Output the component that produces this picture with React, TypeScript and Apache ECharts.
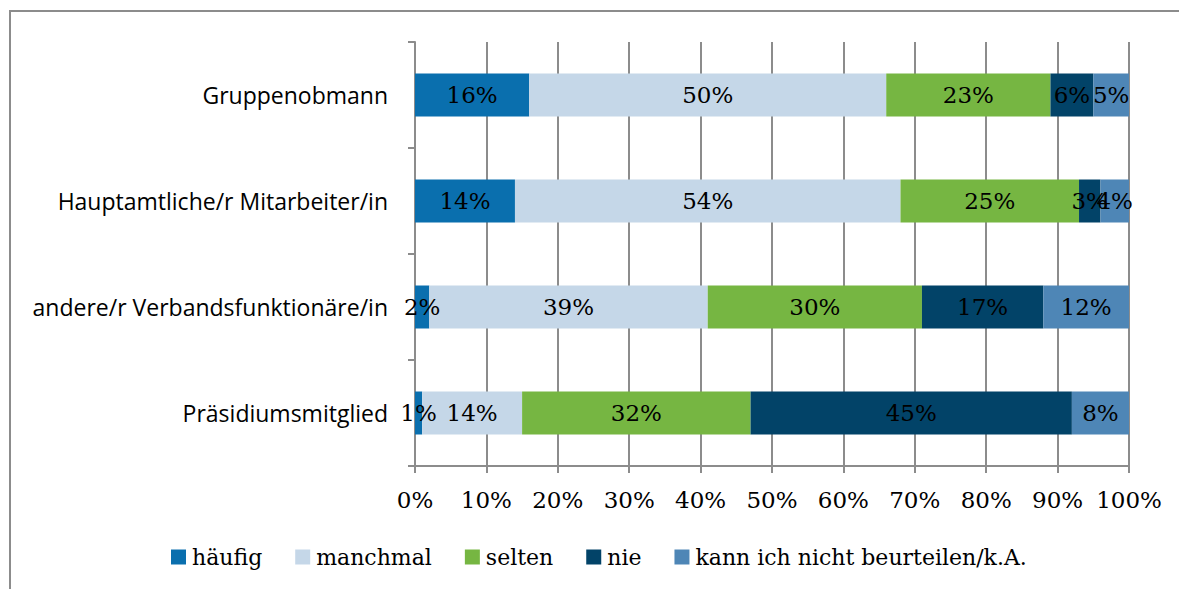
import React, { useEffect, useRef } from "react";
import * as echarts from "echarts";

const categories = [
  "Gruppenobmann",
  "Hauptamtliche/r Mitarbeiter/in",
  "andere/r Verbandsfunktionäre/in",
  "Präsidiumsmitglied",
];
const seriesNames = ["häufig", "manchmal", "selten", "nie", "kann ich nicht beurteilen/k.A."];
const haeufig = [16, 14, 2, 1];
const manchmal = [50, 54, 39, 14];
const selten = [23, 25, 30, 32];
const nie = [6, 3, 17, 45];
const kannNicht = [5, 4, 12, 8];
const xTicks = [0, 10, 20, 30, 40, 50, 60, 70, 80, 90, 100];

const colors = ["#0A6FAE", "#C5D7E8", "#76B642", "#024368", "#4E86B6"];
const serif = "DejaVu Serif";
const sans = "Open Sans";

export default function App() {
  const ref = useRef<HTMLDivElement>(null);
  useEffect(() => {
    if (!ref.current) return;
    const chart = echarts.init(ref.current, null, { renderer: "svg" });
    const values = [haeufig, manchmal, selten, nie, kannNicht];
    chart.setOption({
      animation: false,
      backgroundColor: "#ffffff",
      color: colors,
      graphic: [
        {
          type: "rect",
          shape: { x: 10, y: 11, width: 1400, height: 800 },
          style: { fill: "none", stroke: "#8c8c8c", lineWidth: 2 },
          silent: true,
          z: -1,
        },
      ],
      legend: {
        left: 171,
        top: 546,
        padding: 0,
        itemWidth: 15,
        itemHeight: 15,
        itemGap: 33,
        icon: "rect",
        textStyle: { fontFamily: serif, fontSize: 22, color: "#000", padding: [0, 0, 0, 1] },
        data: seriesNames,
      },
      grid: { left: 415, right: 50, top: 42, bottom: 123, containLabel: false },
      xAxis: {
        type: "value",
        min: xTicks[0],
        max: xTicks[xTicks.length - 1],
        interval: 10,
        axisLine: { show: true, lineStyle: { color: "#8c8c8c", width: 2 } },
        axisTick: { show: true, length: 7, lineStyle: { color: "#8c8c8c", width: 2 } },
        splitLine: { show: true, lineStyle: { color: "#8c8c8c", width: 2 } },
        axisLabel: {
          margin: 22,
          fontFamily: serif,
          fontSize: 23,
          color: "#000",
          formatter: (v: number) => v + "%",
        },
      },
      yAxis: {
        type: "category",
        inverse: true,
        data: categories,
        axisLine: { show: true, lineStyle: { color: "#8c8c8c", width: 2 } },
        axisTick: { show: true, length: 7, lineStyle: { color: "#8c8c8c", width: 2 } },
        axisLabel: { margin: 27, fontFamily: sans, fontSize: 23, color: "#000" },
      },
      series: seriesNames.map((name, i) => ({
        name,
        type: "bar",
        stack: "total",
        barWidth: 43,
        data: values[i],
        label: {
          show: true,
          position: "inside",
          formatter: "{c}%",
          fontFamily: serif,
          fontSize: 23,
          color: "#000",
        },
        labelLayout: { hideOverlap: false },
        itemStyle: { color: colors[i] },
      })),
    });
    return () => chart.dispose();
  }, []);
  return (
    <div
      ref={ref}
      style={{ position: "fixed", left: 0, top: 0, width: 1179, height: 589 }}
    />
  );
}
